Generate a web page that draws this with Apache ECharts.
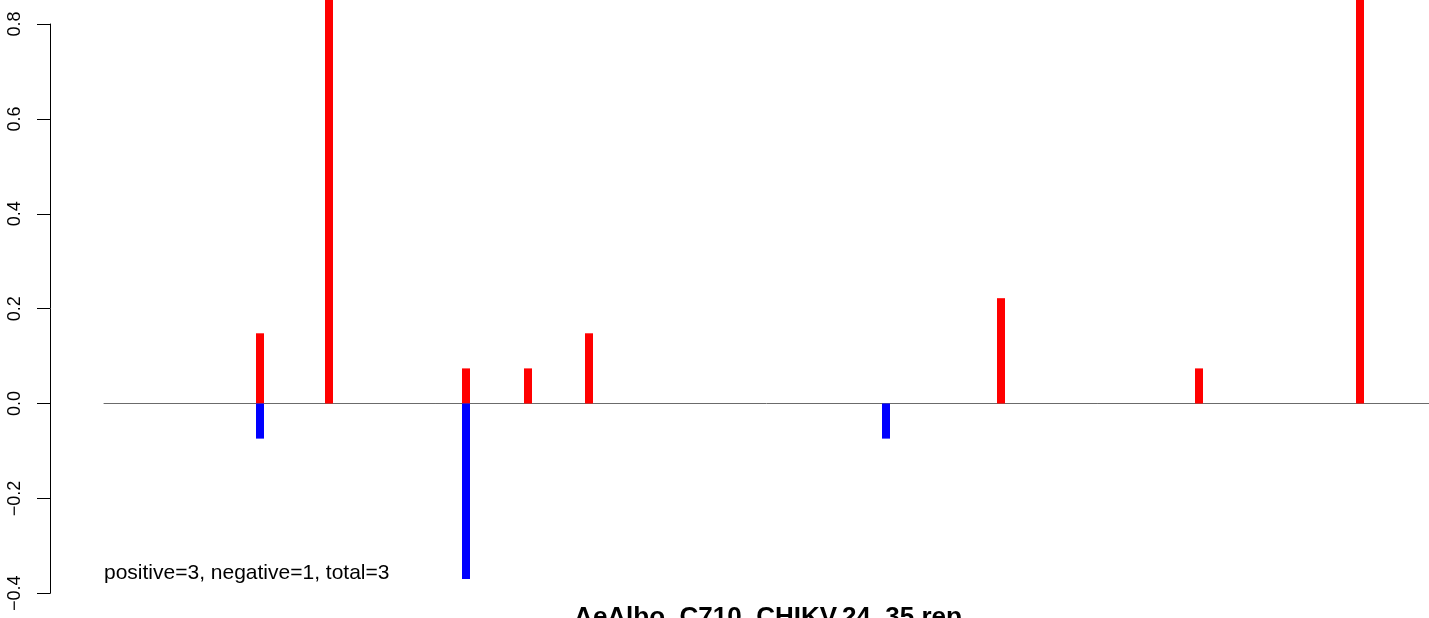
<!DOCTYPE html>
<html>
<head>
<meta charset="utf-8">
<script src="https://cdn.jsdelivr.net/npm/echarts@6/dist/echarts.min.js"></script>
<style>html,body{margin:0;padding:0;background:#fff}#c{width:1429px;height:618px}</style>
</head>
<body>
<div id="c"></div>
<script>
// positions along the sequence (plot units) and values
const positions = [156, 225, 362, 424, 485, 782, 897, 1095, 1256];
const positiveValues = [0.148, 1.0, 0.074, 0.074, 0.148, 0, 0.222, 0.074, 1.0];
const negativeValues = [-0.074, 0, -0.37, 0, 0, -0.074, 0, 0, 0];
const yTicks = [-0.4, -0.2, 0.0, 0.2, 0.4, 0.6, 0.8];
const titleText = 'AeAlbo_C710_CHIKV.24_35.rep';
const noteText = 'positive=3, negative=1, total=3';

const FONT = '"Liberation Sans", Arial, Helvetica, sans-serif';
const chart = echarts.init(document.getElementById('c'), null, {renderer: 'canvas'});

const posData = positions.map((p, i) => [p, positiveValues[i]]).filter(d => d[1] !== 0);
const negData = positions.map((p, i) => [p, negativeValues[i]]).filter(d => d[1] !== 0);

chart.setOption({
  animation: false,
  backgroundColor: '#fff',
  grid: [
    {left: 104, right: 0, top: 0, bottom: 0, containLabel: false},
    {left: 50, width: 1, top: 24, height: 569.3, containLabel: false}
  ],
  xAxis: [
    {gridIndex: 0, type: 'value', min: 0, max: 1325,
     axisLine: {show: true, onZero: true, lineStyle: {color: '#6b6b6b', width: 1}},
     axisTick: {show: false}, axisLabel: {show: false}, splitLine: {show: false}},
    {gridIndex: 1, type: 'value', show: false, min: 0, max: 1}
  ],
  yAxis: [
    {gridIndex: 0, type: 'value', min: -0.4521, max: 0.8505, show: false, splitLine: {show: false}},
    {gridIndex: 1, type: 'value', min: -0.4, max: 0.8, interval: 0.2, position: 'left',
     axisLine: {show: true, lineStyle: {color: '#000', width: 1}},
     axisTick: {show: true, length: 13, lineStyle: {color: '#000', width: 1}},
     splitLine: {show: false},
     axisLabel: {rotate: 90, margin: 26, color: '#000', fontSize: 18, fontFamily: FONT,
       formatter: v => {
         const t = yTicks.find(x => Math.abs(x - v) < 1e-9);
         const s = (t === undefined ? v : t).toFixed(1);
         return s.replace('-', '\u2212');
       }}}
  ],
  series: [
    {type: 'bar', xAxisIndex: 0, yAxisIndex: 0, data: posData, barWidth: 8, barGap: '-100%',
     itemStyle: {color: '#ff0000'}, z: 3},
    {type: 'bar', xAxisIndex: 0, yAxisIndex: 0, data: negData, barWidth: 8, barGap: '-100%',
     itemStyle: {color: '#0000ff'}, z: 3}
  ],
  graphic: [
    {type: 'text', left: 104, top: 563,
     style: {text: noteText, fill: '#000', font: '21px ' + FONT}},
    {type: 'text', x: 768, y: 631,
     style: {text: titleText, fill: '#000', font: 'bold 26px ' + FONT, align: 'center', verticalAlign: 'bottom'}}
  ]
});
</script>
</body>
</html>
